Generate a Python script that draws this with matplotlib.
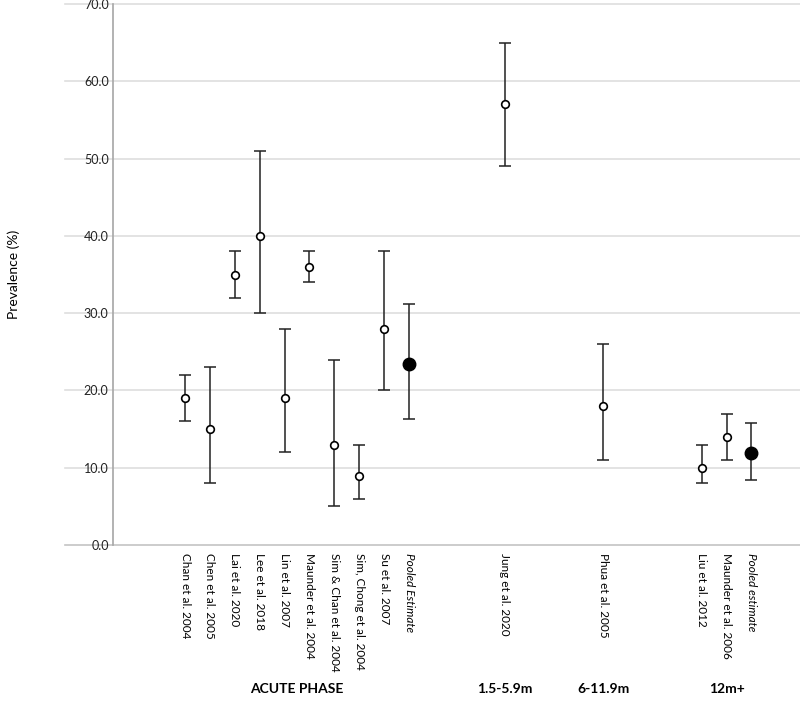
import matplotlib.pyplot as plt
import matplotlib.transforms as mtransforms

# study labels, point estimates and 95% CI
studies = ["Chan et al. 2004", "Chen et al. 2005", "Lai et al. 2020", "Lee et al. 2018",
           "Lin et al. 2007", "Maunder et al. 2004", "Sim & Chan et al. 2004",
           "Sim, Chong et al. 2004", "Su et al. 2007", "Pooled Estimate",
           "Jung et al. 2020", "Phua et al. 2005", "Liu et al. 2012",
           "Maunder et al. 2006", "Pooled estimate"]
prevalence = [19, 15, 35, 40, 19, 36, 13, 9, 28, 23.4, 57, 18, 10, 14, 11.9]
ci_low = [16, 8, 32, 30, 12, 34, 5, 6, 20, 16.3, 49, 11, 8, 11, 8.4]
ci_high = [22, 23, 38, 51, 28, 38, 24, 13, 38, 31.2, 65, 26, 13, 17, 15.8]
pooled = [False] * 9 + [True] + [False] * 4 + [True]

groups = ["ACUTE PHASE", "1.5-5.9m", "6-11.9m", "12m+"]
group_centers = [4.5, 12.85, 16.8, 21.75]

# x positions (gaps between phases)
xpos = list(range(10)) + [12.85, 16.8, 20.75, 21.75, 22.75]

plt.rcParams['font.family'] = ['Lato', 'DejaVu Sans']
fig = plt.figure(figsize=(8, 7.22), dpi=100)
ax = fig.add_axes([0.141, 0.245, 0.859, 0.7495])

ax.set_xlim(-2.9, 24.7)
ax.set_ylim(0, 70)

# gridlines reaching left past the axis, like the original
trans = mtransforms.blended_transform_factory(ax.transAxes, ax.transData)
for yv in range(0, 71, 10):
    ax.plot([-0.07, 1.0], [yv, yv], transform=trans, color="#dedede" if yv else "#c4c4c4",
            lw=1.2, clip_on=False, zorder=0)

for x, p, lo, hi, pl in zip(xpos, prevalence, ci_low, ci_high, pooled):
    ax.errorbar(x, p, yerr=[[p - lo], [hi - p]], fmt="none", ecolor="#222222",
                elinewidth=1.1, capsize=4, capthick=1.1, zorder=2)
    if pl:
        ax.plot(x, p, "o", ms=9, mfc="black", mec="black", zorder=3)
    else:
        ax.plot(x, p, "o", ms=5.5, mfc="white", mec="black", mew=1.2, zorder=3)

ax.set_yticks(range(0, 71, 10))
ax.set_yticklabels([f"{v:.1f}" for v in range(0, 71, 10)], fontsize=9, color="#222222")
ax.tick_params(axis="y", length=0, pad=3)

ax.set_xticks(xpos)
ax.set_xticklabels(studies, rotation=-90, fontsize=8.5, va="top", ha="center")
ax.tick_params(axis="x", length=0, pad=6)
for lbl, pl in zip(ax.get_xticklabels(), pooled):
    if pl:
        lbl.set_style("italic")

for s in ["top", "right", "bottom"]:
    ax.spines[s].set_visible(False)
ax.spines["left"].set_color("#a6a6a6")
ax.spines["left"].set_linewidth(1.2)

ax.set_ylabel("Prevalence (%)", fontsize=10, labelpad=46)

for g, c in zip(groups, group_centers):
    ax.text(c, -18.6, g, ha="center", va="center", fontsize=10, fontweight="bold")

fig.savefig("out.png", dpi=100)
